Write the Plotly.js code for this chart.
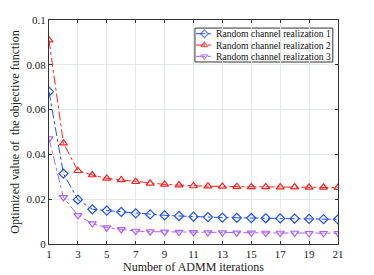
<!DOCTYPE html>
<html><head><meta charset="utf-8">
<script src="https://cdn.plot.ly/plotly-3.0.1.min.js"></script>
<style>html,body{margin:0;padding:0;background:#fff;}#c{width:374px;height:275px;}</style>
</head><body><div id="c"></div>
<script>
const iterations = [1,2,3,4,5,6,7,8,9,10,11,12,13,14,15,16,17,18,19,20,21];
const realization1 = [0.068,0.0314,0.0198,0.0155,0.0149,0.0143,0.0137,0.0132,0.0128,0.0125,0.0122,0.0120,0.0118,0.0117,0.0116,0.0115,0.0114,0.0113,0.0112,0.0111,0.0110];
const realization2 = [0.091,0.045,0.0327,0.0308,0.0293,0.0286,0.0278,0.0271,0.0266,0.0263,0.0259,0.0258,0.0257,0.0256,0.0255,0.0255,0.0254,0.0254,0.0253,0.0253,0.0252];
const realization3 = [0.047,0.0208,0.0128,0.0091,0.0073,0.0065,0.0058,0.0055,0.0054,0.0053,0.0052,0.0051,0.0051,0.0050,0.0050,0.0049,0.0049,0.0049,0.0048,0.0048,0.0048];
const names = ['Random channel realization 1','Random channel realization 2','Random channel realization 3'];
const xTicks = [1,3,5,7,9,11,13,15,17,19,21];
const yTicks = [0,0.02,0.04,0.06,0.08,0.1];
const yTickText = ['0','0.02','0.04','0.06','0.08','0.1'];

const colors = ['#2150ff','#ff2020','#b060ff'];
const symbols = ['diamond-open','triangle-up-open','triangle-down-open'];
const series = [realization1, realization2, realization3];
const FAM = '"Liberation Serif", "Times New Roman", serif';
const traces = series.map((s,i)=>({
  x: iterations, y: s, name: names[i], type:'scatter', mode:'lines+markers', showlegend:false,
  line:{color:colors[i], width:1, dash:'dashdot'},
  marker:{symbol:symbols[i], size:7, color:colors[i], line:{color:colors[i], width:1.2}}
}));

// custom compact legend (paper-space overlay axes)
const legX0 = 0.505, legX1 = 0.982, legTop = 0.964, legBot = 0.8125;
const rowH = (legTop - legBot) / 3;
const sampleX = [0.5085, 0.5375, 0.5665];
const annotations = [];
names.forEach((n,i)=>{
  const ry = legTop - rowH*(i+0.5);
  traces.push({x: sampleX, y:[ry,ry,ry], xaxis:'x2', yaxis:'y2', type:'scatter', mode:'lines+markers', showlegend:false, hoverinfo:'skip',
    line:{color:colors[i], width:1, dash:'dashdot'},
    marker:{symbol:symbols[i], size:[0,6,0], color:colors[i], line:{color:colors[i], width:1.2}}});
  annotations.push({xref:'paper', yref:'paper', x:0.571, y:ry, xanchor:'left', yanchor:'middle', showarrow:false,
    text:n, font:{family:FAM, size:9.6, color:'#111'}});
});

const layout = {
  width:374, height:275,
  margin:{l:49, r:36, t:20, b:31},
  paper_bgcolor:'#fff', plot_bgcolor:'#fff',
  font:{family:FAM, size:11, color:'#222'},
  showlegend:false,
  annotations: annotations,
  shapes:[{type:'rect', xref:'paper', yref:'paper', x0:legX0, x1:legX1, y0:legBot, y1:legTop,
    fillcolor:'#fff', line:{color:'#333', width:1}, layer:'between'}],
  xaxis:{range:[1,21], tickvals:xTicks, ticktext:xTicks.map(String), showgrid:true, gridcolor:'#e3e8e8',
    zeroline:false, showline:true, linecolor:'#333', linewidth:1, mirror:'ticks', ticks:'inside', ticklen:3, tickcolor:'#333',
    tickfont:{family:FAM, size:11, color:'#222'},
    title:{text:'Number of ADMM iterations', font:{family:FAM, size:12, color:'#222'}, standoff:2}},
  yaxis:{range:[0,0.1], tickvals:yTicks, ticktext:yTickText, showgrid:true, gridcolor:'#e3e8e8',
    zeroline:false, showline:true, linecolor:'#333', linewidth:1, mirror:'ticks', ticks:'inside', ticklen:3, tickcolor:'#333',
    tickfont:{family:FAM, size:11, color:'#222'},
    title:{text:'Optimized value of  the objective function', font:{family:FAM, size:12, color:'#222'}, standoff:4}},
  xaxis2:{domain:[0,1], range:[0,1], anchor:'y2', overlaying:'x', visible:false, fixedrange:true},
  yaxis2:{domain:[0,1], range:[0,1], anchor:'x2', overlaying:'y', visible:false, fixedrange:true}
};
Plotly.newPlot('c', traces, layout, {displayModeBar:false, staticPlot:true});
</script></body></html>
